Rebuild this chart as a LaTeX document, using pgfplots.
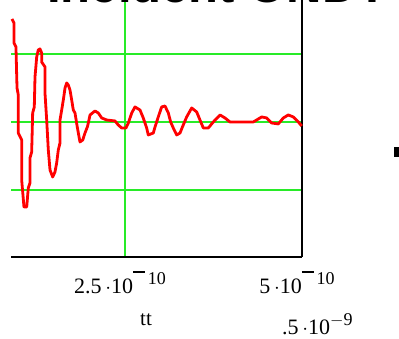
\documentclass[border=0pt]{standalone}
\usepackage{pgfplots}
\pgfplotsset{compat=1.18}
\usepackage{fontspec}
\setmainfont{Liberation Serif}
\newfontfamily\titlefont{Liberation Sans}
\definecolor{gridgreen}{RGB}{40,235,40}
\newcommand{\mcexp}[1]{\raisebox{9pt}{\fontsize{18}{20}\selectfont\rule[0.62em]{0.65em}{0.14em}\,#1}}
\pgfplotstableread{
x y
0.904 1.515
0.932 1.456
0.932 1.162
0.960 1.103
0.975 0.500
0.993 0.397
0.993 -0.162
1.041 -0.265
1.041 -0.853
1.073 -1.250
1.112 -1.250
1.134 -0.971
1.158 -0.897
1.158 -0.529
1.182 -0.441
1.196 0.132
1.219 0.221
1.229 0.662
1.253 0.956
1.275 1.059
1.299 1.074
1.323 1.015
1.323 0.882
1.370 0.809
1.370 0.426
1.394 0.029
1.417 -0.412
1.441 -0.706
1.479 -0.809
1.511 -0.735
1.535 -0.603
1.558 -0.412
1.582 -0.309
1.582 0.029
1.606 0.176
1.629 0.324
1.653 0.500
1.677 0.574
1.699 0.544
1.723 0.471
1.747 0.324
1.770 0.176
1.794 0.132
1.826 -0.074
1.864 -0.294
1.903 -0.265
1.935 -0.162
1.968 -0.074
1.982 -0.015
2.006 0.103
2.076 0.162
2.123 0.132
2.171 0.059
2.242 0.029
2.359 0.015
2.405 -0.044
2.453 -0.088
2.514 -0.088
2.547 -0.015
2.595 0.132
2.641 0.221
2.712 0.176
2.758 0.059
2.806 -0.088
2.829 -0.191
2.900 -0.162
2.924 -0.074
2.970 0.074
3.018 0.221
3.065 0.235
3.112 0.132
3.145 0.000
3.182 -0.088
3.230 -0.191
3.277 -0.162
3.323 -0.044
3.371 0.074
3.442 0.206
3.513 0.147
3.559 0.029
3.606 -0.088
3.677 -0.088
3.747 0.000
3.842 0.103
3.912 0.059
3.983 0.000
4.312 0.000
4.431 0.074
4.501 0.059
4.572 -0.015
4.665 -0.029
4.736 0.059
4.806 0.103
4.877 0.074
4.948 0.000
4.996 -0.059
}\incident
\begin{document}
\begin{tikzpicture}[x=1pt,y=1pt]
\clip (0,0) rectangle (399,338);
\fill[white] (0,0) rectangle (399,338);
\begin{axis}[
  at={(11pt,81pt)}, anchor=south west,
  scale only axis, width=291pt, height=267pt,
  xmin=0.89, xmax=5, ymin=-1.985, ymax=1.94,
  axis x line*=bottom, axis y line*=right,
  axis line style={black, line width=2pt},
  xtick={2.5,5}, ytick={-1,0,1}, yticklabels={},
  xticklabels={2.5\,$\cdot$10\mcexp{10}, 5\,$\cdot$10\mcexp{10}},
  xticklabel style={font=\fontsize{22}{26}\selectfont, anchor=north, xshift=-5pt, yshift=-10pt},
  major tick length=0pt,
  grid=major, grid style={gridgreen, line width=1.3pt},
  clip=false,
]
\addplot[red, line width=2.8pt, line join=round] table[x=x,y=y] {\incident};
\end{axis}
\node[anchor=base west, inner sep=0pt, font=\titlefont\bfseries\fontsize{49}{55}\selectfont] at (47,335) {Incident ONDT};
\node[anchor=base, inner sep=0pt, font=\fontsize{21}{24}\selectfont] at (146,13) {tt};
\node[anchor=base west, inner sep=0pt, font=\fontsize{22}{26}\selectfont] at (282,4) {.5\,$\cdot$10\raisebox{9pt}{\fontsize{18}{20}\selectfont$-$9}};
\fill[black] (394,181) rectangle (399,191);
\end{tikzpicture}
\end{document}
